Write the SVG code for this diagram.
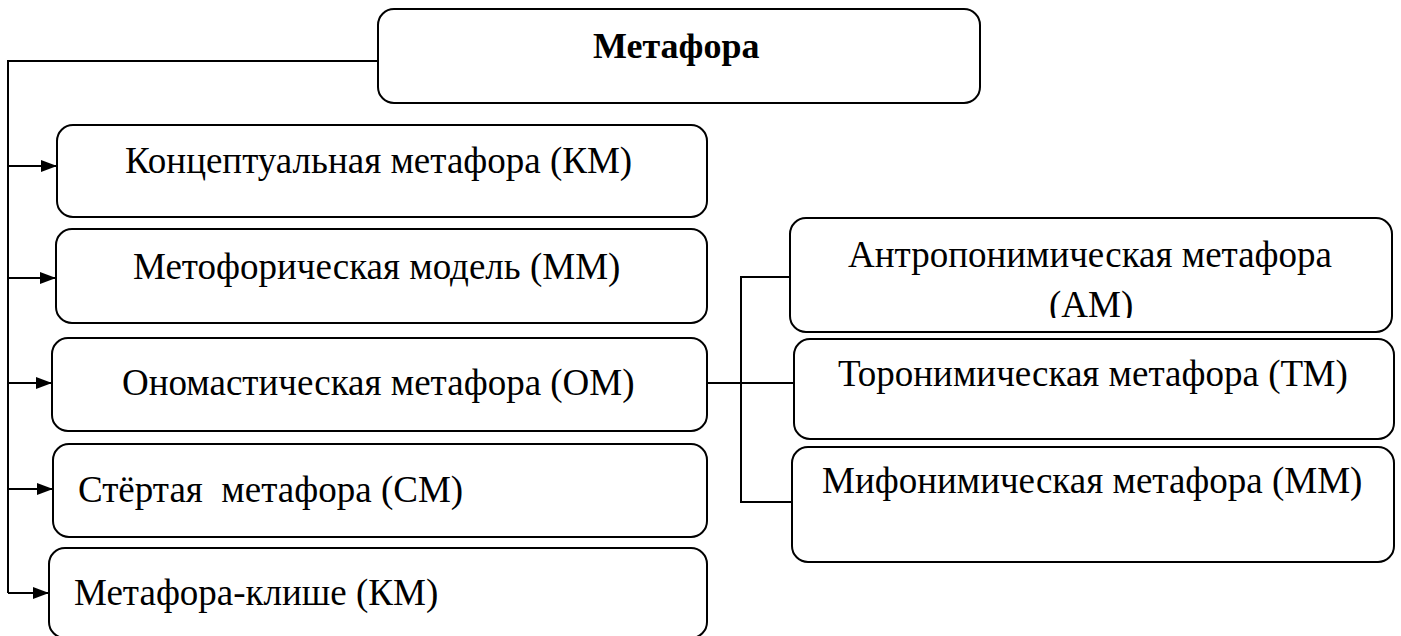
<svg xmlns="http://www.w3.org/2000/svg" width="1401" height="636" viewBox="0 0 1401 636">
<style>
.box{fill:#fff;stroke:#000;stroke-width:2}
.t{font-family:"Liberation Serif","Times New Roman",serif;font-size:37px;fill:#000;white-space:pre}
.b{font-weight:bold;font-size:36px}
.c{fill:none;stroke:#000;stroke-width:2}
</style>
<defs>
<marker id="ah" markerWidth="16" markerHeight="12" refX="16" refY="6" orient="auto" markerUnits="userSpaceOnUse">
<path d="M0,0 L16,6 L0,12 Z" fill="#000"/>
</marker>
<clipPath id="clipAM"><rect x="790" y="218" width="602" height="100"/></clipPath>
</defs>
<rect width="1401" height="636" fill="#fff"/>
<g id="connectors">
<path class="c" d="M378,61 H8 V593"/>
<path class="c" d="M8,166 H57" marker-end="url(#ah)"/>
<path class="c" d="M8,278 H56" marker-end="url(#ah)"/>
<path class="c" d="M8,383 H52" marker-end="url(#ah)"/>
<path class="c" d="M8,489 H53" marker-end="url(#ah)"/>
<path class="c" d="M8,593 H49" marker-end="url(#ah)"/>
<path class="c" d="M707,383 H794"/>
<path class="c" d="M790,277 H741 V502 H792"/>
</g>
<g id="n-metafora"><rect class="box" x="378" y="9" width="602" height="94" rx="16"/><text class="t b" x="593" y="58">Метафора</text></g>
<g id="n-km"><rect class="box" x="57" y="125" width="650" height="92" rx="16"/><text class="t" x="125" y="173">Концептуальная метафора (КМ)</text></g>
<g id="n-mm"><rect class="box" x="56" y="229" width="651" height="94" rx="16"/><text class="t" x="133" y="279">Метофорическая модель (ММ)</text></g>
<g id="n-om"><rect class="box" x="52" y="338" width="655" height="93" rx="16"/><text class="t" x="122" y="395">Ономастическая метафора (ОМ)</text></g>
<g id="n-sm"><rect class="box" x="53" y="444" width="654" height="93" rx="16"/><text class="t" x="78" y="502">Стёртая  метафора (СМ)</text></g>
<g id="n-klishe"><rect class="box" x="49" y="548" width="658" height="90" rx="16"/><text class="t" x="74" y="605">Метафора-клише (КМ)</text></g>
<g id="n-am"><rect class="box" x="790" y="218" width="602" height="114" rx="16"/><text class="t" x="848" y="267">Антропонимическая метафора</text><text class="t" x="1049" y="317" clip-path="url(#clipAM)">(АМ)</text></g>
<g id="n-tm"><rect class="box" x="794" y="339" width="600" height="100" rx="16"/><text class="t" x="838" y="386">Торонимическая метафора (ТМ)</text></g>
<g id="n-mfm"><rect class="box" x="792" y="447" width="602" height="115" rx="16"/><text class="t" x="822" y="493">Мифонимическая метафора (ММ)</text></g>
</svg>
